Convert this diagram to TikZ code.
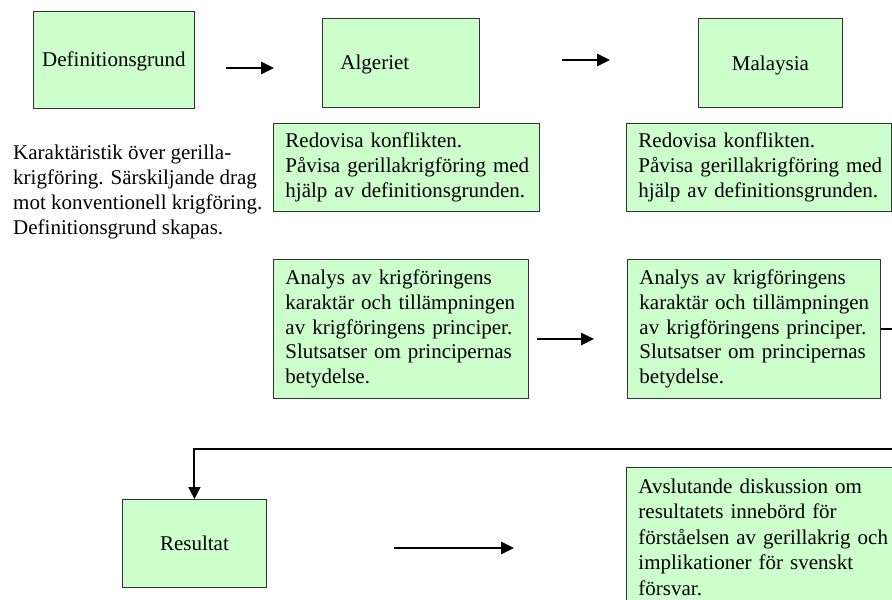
\documentclass[tikz,border=0pt]{standalone}
\usepackage{fontspec}
\setmainfont{Liberation Serif}
\usetikzlibrary{arrows.meta}
\definecolor{boxgreen}{HTML}{CCFFCC}
\definecolor{boxline}{HTML}{333333}
\newcommand{\tl}[1]{\mbox{#1}}
\tikzset{
  box/.style={draw=boxline, fill=boxgreen, line width=0.9pt, anchor=north west,
    inner sep=0pt, font=\fontsize{21}{24.8}\selectfont},
  txtbox/.style={box, align=left, inner xsep=12pt},
  plain/.style={anchor=north west, align=left, inner sep=0pt, font=\fontsize{21}{24.8}\selectfont},
  arr/.style={line width=2.6pt, -{Triangle[length=13pt,width=12pt]}},
  conn/.style={line width=2pt, -{Triangle[length=12pt,width=12pt]}}
}
\begin{document}
\begin{tikzpicture}[x=1pt,y=-1pt]
\clip (0,0) rectangle (892,600);
\fill[white] (0,0) rectangle (892,600);
% top row
\node[box, minimum width=161pt, minimum height=97pt, text height=16pt, text depth=2pt] (def) at (33,11) {Definitionsgrund};
\node[box, minimum width=145pt, minimum height=89pt, text width=121pt, align=left, inner xsep=18pt, text height=16pt, text depth=2pt] (alg) at (322,18) {Algeriet};
\node[box, minimum width=144pt, minimum height=89pt, text height=17pt, text depth=1pt] (mal) at (698,18) {Malaysia};
% second row
\node[plain] (kar) at (13,145) {Karaktäristik över gerilla-\\krigföring. Särskiljande drag\\mot konventionell krigföring.\\Definitionsgrund skapas.};
\node[txtbox, minimum width=266pt, minimum height=88pt, text width=242pt] (red1) at (273,123) {\tl{Redovisa konflikten.}\\\tl{Påvisa gerillakrigföring med}\\\tl{hjälp av definitionsgrunden.}};
\node[txtbox, minimum width=265pt, minimum height=88pt, text width=241pt] (red2) at (626,123) {\tl{Redovisa konflikten.}\\\tl{Påvisa gerillakrigföring med}\\\tl{hjälp av definitionsgrunden.}};
% third row
\node[txtbox, minimum width=255pt, minimum height=139pt, text width=231pt] (an1) at (273,259) {\tl{Analys av krigföringens}\\\tl{karaktär och tillämpningen}\\\tl{av krigföringens principer.}\\\tl{Slutsatser om principernas}\\\tl{betydelse.}};
\node[txtbox, minimum width=253pt, minimum height=139pt, text width=229pt] (an2) at (627,259) {\tl{Analys av krigföringens}\\\tl{karaktär och tillämpningen}\\\tl{av krigföringens principer.}\\\tl{Slutsatser om principernas}\\\tl{betydelse.}};
% bottom row
\node[box, minimum width=144pt, minimum height=88pt, text height=16pt, text depth=2pt] (res) at (122,499) {Resultat};
\node[txtbox, minimum width=300pt, text width=276pt, inner ysep=11pt, font=\fontsize{21}{25.6}\selectfont] (avs) at (626,467) {\tl{Avslutande diskussion om}\\\tl{resultatets innebörd för}\\\tl{förståelsen av gerillakrig och}\\\tl{implikationer för svenskt}\\\tl{försvar.}};
% arrows
\coordinate (a1s) at (226,68); \coordinate (a1e) at (274,68);
\coordinate (a2s) at (562,60); \coordinate (a2e) at (610,60);
\coordinate (a3s) at (537,339); \coordinate (a3e) at (594,339);
\coordinate (a4s) at (394,548); \coordinate (a4e) at (514,548);
\draw[arr] (a1s) -- (a1e);
\draw[arr] (a2s) -- (a2e);
\draw[arr] (a3s) -- (a3e);
\draw[arr] (a4s) -- (a4e);
% feedback connector
\coordinate (c1) at (898,449);
\draw[conn] (an2.east) -- (an2.east -| c1) -- (c1) -- (res.north |- c1) -- (res.north);
\end{tikzpicture}
\end{document}
